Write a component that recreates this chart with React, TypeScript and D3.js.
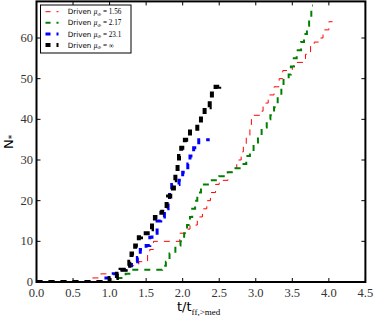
import React from 'react';
import * as d3 from 'd3';

const W = 374;
const H = 318;

const xTicks = [0, 0.5, 1, 1.5, 2, 2.5, 3, 3.5, 4, 4.5];
const yTicks = [0, 10, 20, 30, 40, 50, 60];
const legendLabels = ['1.56', '2.17', '23.1', '\u221E'];

// Driven mu_Phi = 1.56 (red)
const redT = [0, 0.72, 0.88, 1.1, 1.25, 1.4, 1.52, 1.55, 1.6, 1.96, 2.05, 2.1, 2.2, 2.27, 2.33, 2.38, 2.45, 2.5, 2.62, 2.68, 2.74, 2.8, 2.83, 2.87, 2.92, 2.94, 2.97, 3.08, 3.1, 3.17, 3.25, 3.32, 3.37, 3.5, 3.55, 3.68, 3.75, 3.8, 3.88, 3.92, 4.0, 4.05];
const redN = [0, 1, 2, 3, 4, 5, 7, 8, 10, 12, 13, 14, 16, 18, 20, 22, 24, 25, 27, 28, 30, 32, 34, 36, 38, 40, 41, 42, 44, 46, 48, 50, 52, 53, 54, 56, 58, 59, 60, 62, 64, 64];

// Driven mu_Phi = 2.17 (green)
const greenT = [0, 1.05, 1.22, 1.27, 1.72, 1.77, 1.82, 1.9, 1.97, 2.02, 2.06, 2.1, 2.13, 2.17, 2.2, 2.25, 2.37, 2.5, 2.58, 2.7, 2.8, 2.87, 2.92, 2.97, 3.03, 3.08, 3.15, 3.2, 3.25, 3.3, 3.35, 3.38, 3.45, 3.48, 3.52, 3.56, 3.62, 3.66, 3.7, 3.73, 3.76, 3.78];
const greenN = [0, 1, 2, 3, 4, 5, 7, 9, 10, 12, 14, 16, 18, 20, 22, 24, 25, 26, 27, 28, 29, 31, 32, 34, 36, 38, 40, 41, 43, 46, 48, 50, 51, 53, 55, 57, 59, 61, 63, 65, 68, 68];

// Driven mu_Phi = 23.1 (blue)
const blueT = [0, 0.95, 1.05, 1.15, 1.22, 1.3, 1.38, 1.42, 1.5, 1.55, 1.58, 1.65, 1.7, 1.75, 1.8, 1.82, 1.85, 1.95, 2.0, 2.07, 2.1, 2.15, 2.22, 2.37];
const blueN = [0, 1, 2, 3, 4, 5, 6, 8, 9, 11, 12, 15, 16, 18, 20, 22, 24, 25, 27, 29, 31, 33, 35, 35];

// Driven mu_Phi = infinity (black)
const blackT = [0, 1.0, 1.1, 1.15, 1.22, 1.27, 1.3, 1.35, 1.4, 1.43, 1.55, 1.58, 1.62, 1.68, 1.72, 1.78, 1.8, 1.83, 1.88, 1.9, 1.93, 1.95, 1.98, 2.03, 2.1, 2.2, 2.25, 2.3, 2.37, 2.4, 2.45, 2.5];
const blackN = [0, 1, 2, 3, 4, 5, 7, 9, 11, 12, 13, 15, 16, 17, 18, 20, 21, 23, 25, 27, 29, 31, 33, 35, 37, 39, 41, 43, 45, 47, 48, 49];

const series = [
  { label: legendLabels[0], t: redT, n: redN, color: '#ff0000', w: 1 },
  { label: legendLabels[1], t: greenT, n: greenN, color: '#008000', w: 2 },
  { label: legendLabels[2], t: blueT, n: blueN, color: '#0000ff', w: 3 },
  { label: legendLabels[3], t: blackT, n: blackN, color: '#000000', w: 4 },
];

const X0 = 36.5, X1 = 365.4, Y0 = 1.4, Y1 = 282;

export default function App() {
  const x = d3.scaleLinear().domain([0, 4.5]).range([X0, X1]);
  const y = d3.scaleLinear().domain([0, 69]).range([Y1, Y0]);
  const line = d3
    .line<[number, number]>()
    .x((d) => x(d[0]))
    .y((d) => y(d[1]))
    .curve(d3.curveStepAfter);

  const serif = "'Liberation Serif', 'DejaVu Serif', serif";
  const sans = "'DejaVu Sans', 'Liberation Sans', sans-serif";

  return (
    <svg width={W} height={H} style={{ position: 'absolute', left: 0, top: 0, background: '#fff' }}>
      <defs>
        <clipPath id="plotclip">
          <rect x={X0} y={Y0} width={X1 - X0} height={Y1 - Y0} />
        </clipPath>
      </defs>
      <rect x={0} y={0} width={W} height={H} fill="#fff" />
      <g clipPath="url(#plotclip)">
        {series.map((s, i) => (
          <path
            key={i}
            d={line(s.t.map((t, j) => [t, s.n[j]] as [number, number])) || ''}
            fill="none"
            stroke={s.color}
            strokeWidth={s.w}
            strokeDasharray="6,6"
          />
        ))}
      </g>
      {/* ticks */}
      {xTicks.map((t, i) => (
        <g key={'xt' + i}>
          <line x1={x(t)} x2={x(t)} y1={Y1} y2={Y1 - 4} stroke="#000" strokeWidth={1} />
          <line x1={x(t)} x2={x(t)} y1={Y0} y2={Y0 + 4} stroke="#000" strokeWidth={1} />
          <text x={x(t)} y={297} fontFamily={serif} fontSize={12.5} fill="#333" textAnchor="middle">
            {t.toFixed(1)}
          </text>
        </g>
      ))}
      {yTicks.map((t, i) => (
        <g key={'yt' + i}>
          <line x1={X0} x2={X0 + 4} y1={y(t)} y2={y(t)} stroke="#000" strokeWidth={1} />
          <line x1={X1} x2={X1 - 4} y1={y(t)} y2={y(t)} stroke="#000" strokeWidth={1} />
          <text x={33} y={y(t) + 4} fontFamily={serif} fontSize={12.5} fill="#333" textAnchor="end">
            {t}
          </text>
        </g>
      ))}
      <rect x={X0} y={Y0} width={X1 - X0} height={Y1 - Y0} fill="none" stroke="#000" strokeWidth={2} />
      {/* legend */}
      <rect x={40.5} y={5} width={90.5} height={48} fill="#fff" stroke="#000" strokeWidth={1} />
      {series.map((s, i) => {
        const cy = 11.7 + i * 11.1;
        return (
          <g key={'lg' + i}>
            <line x1={45.5} x2={58.5} y1={cy} y2={cy} stroke={s.color} strokeWidth={s.w} strokeDasharray="5,6" />
            <text x={67.7} y={cy + 2.6} fontSize={7.2} fill="#000">
              <tspan fontFamily={sans}>Driven </tspan>
              <tspan fontFamily={serif} fontStyle="italic">{'\u03BC'}</tspan>
              <tspan fontFamily={serif} fontStyle="italic" fontSize={5} dy={1.8}>{'\u03A6'}</tspan>
              <tspan fontFamily={serif} dy={-1.8}>{' = ' + s.label}</tspan>
            </text>
          </g>
        );
      })}
      {/* axis labels */}
      <text x={177} y={310.5} fontFamily={sans} fontSize={13} fill="#000">
        t/t
        <tspan fontFamily={serif} fontSize={9} dy={4.5}>ff,&gt;med</tspan>
      </text>
      <text transform="translate(12.5,149) rotate(-90)" fontFamily={sans} fontSize={13} fill="#000">
        N
        <tspan fontSize={9} dy={2}>*</tspan>
      </text>
    </svg>
  );
}
